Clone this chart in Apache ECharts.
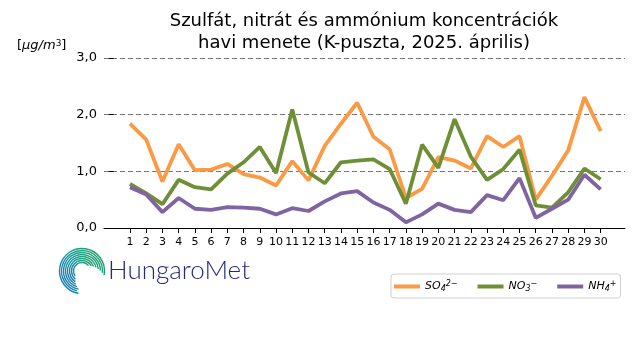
<!DOCTYPE html>
<html><head><meta charset="utf-8">
<script src="https://cdn.jsdelivr.net/npm/echarts@6/dist/echarts.min.js"></script>
<style>html,body{margin:0;padding:0;background:#fff}#c{width:640px;height:360px}</style>
</head><body><div id="c"></div>
<script>
var days = [1,2,3,4,5,6,7,8,9,10,11,12,13,14,15,16,17,18,19,20,21,22,23,24,25,26,27,28,29,30];
var so4 = [1.84,1.56,0.82,1.48,1.02,1.03,1.13,0.95,0.89,0.75,1.18,0.84,1.45,1.84,2.21,1.61,1.39,0.53,0.69,1.25,1.19,1.05,1.62,1.43,1.62,0.50,0.92,1.37,2.31,1.71];
var no3 = [0.78,0.61,0.42,0.85,0.72,0.68,0.96,1.16,1.43,0.97,2.09,0.98,0.79,1.16,1.19,1.21,1.04,0.43,1.47,1.06,1.92,1.26,0.85,1.04,1.38,0.40,0.36,0.63,1.05,0.86];
var nh4 = [0.72,0.59,0.28,0.53,0.34,0.32,0.37,0.36,0.34,0.24,0.35,0.30,0.47,0.61,0.65,0.45,0.32,0.10,0.24,0.43,0.32,0.28,0.58,0.49,0.88,0.18,0.34,0.50,0.94,0.68];
var yTicks = [0,1,2,3];
var seriesNames = ['SO4','NO3','NH4'];
var colors = ['#fb9a44','#6f8f37','#8064a2'];

function pairs(arr){ return days.map(function(d,i){return [d, arr[i]];}); }

var chart = echarts.init(document.getElementById('c'), null, {renderer:'canvas'});
var FONT = 'DejaVu Sans';

// logo arcs
var logo = [];
var radii = [22.5,20.5,18.5,16.5,14.5,12.5,10.5,8.5];
var starts = [0.55,0.58,0.56,0.60,0.64,0.68,0.72,0.80];
var ends = [2.06,2.03,1.99,1.96,1.92,1.88,1.84,1.78];
radii.forEach(function(r,i){
  logo.push({type:'arc', shape:{cx:82, cy:271, r:r, startAngle:starts[i]*Math.PI, endAngle:ends[i]*Math.PI},
    style:{fill:null, lineWidth:1.4, stroke:new echarts.graphic.LinearGradient(0,1,1,0,[{offset:0,color:'#1e6fb8'},{offset:0.5,color:'#1a9aa0'},{offset:1,color:'#1fa353'}])}, silent:true});
});
logo.push({type:'text', left:108, top:258, style:{text:'HungaroMet', font:'300 26px Lato', fill:'#25297a'}});
logo.push({type:'text', left:17, top:39, style:{
  text:'[{i|μg/m}{s|3}]', font:'13px "DejaVu Sans"', fill:'#000',
  rich:{i:{fontStyle:'italic', fontFamily:FONT, fontSize:13}, s:{fontSize:9, fontFamily:FONT, verticalAlign:'top', lineHeight:13, padding:[0,0,6,0]}}
}});

var option = {
  animation:false,
  backgroundColor:'#fff',
  title:{text:'Szulfát, nitrát és ammónium koncentrációk\nhavi menete (K-puszta, 2025. április)',
    left:359, textAlign:'center', top:5,
    textStyle:{fontFamily:FONT, fontSize:18, fontWeight:'normal', color:'#000', lineHeight:22}},
  grid:{left:104, right:15, top:58, bottom:132},
  legend:{
    left:391, top:274,
    orient:'horizontal', padding:[6,4,5,3], itemGap:20,
    borderColor:'#d0d0d0', borderWidth:1, borderRadius:3,
    icon:'rect', itemWidth:26, itemHeight:4,
    data:seriesNames,
    formatter:function(n){
      if(n==='SO4') return '{m|SO}{s|4}{p|2−}';
      if(n==='NO3') return '{m|NO}{s|3}{p|−}';
      return '{m|NH}{s|4}{p|+}';
    },
    textStyle:{fontFamily:FONT, fontSize:11, color:'#000',
      rich:{m:{fontStyle:'italic', fontFamily:FONT, fontSize:11},
            s:{fontStyle:'italic', fontFamily:FONT, fontSize:8, verticalAlign:'bottom', padding:[5,0,0,0]},
            p:{fontStyle:'italic', fontFamily:FONT, fontSize:8, verticalAlign:'top', padding:[0,0,5,0]}}}
  },
  xAxis:{type:'value', min:-0.6, max:31.5,
    axisLine:{show:true, onZero:false, lineStyle:{color:'#000', width:1}},
    axisTick:{show:true, customValues:days, length:5, lineStyle:{color:'#000'}},
    axisLabel:{customValues:days, fontFamily:FONT, fontSize:11, color:'#000', margin:9},
    splitLine:{show:false}},
  yAxis:{type:'value', min:0, max:3, interval:1,
    axisLine:{show:false},
    axisTick:{show:true, length:5, lineStyle:{color:'#000'}},
    axisLabel:{fontFamily:FONT, fontSize:13, color:'#000', margin:7,
      formatter:function(v){return v.toFixed(1).replace('.',',');}},
    splitLine:{show:true, lineStyle:{color:'#777', type:[5,3], width:1}}},
  series:[so4,no3,nh4].map(function(arr,i){
    return {name:seriesNames[i], type:'line', data:pairs(arr), showSymbol:false, symbol:'none',
      lineStyle:{width:3.8, color:colors[i]}, itemStyle:{color:colors[i]}, z:3+i};
  }),
  graphic:logo
};
chart.setOption(option);
</script></body></html>
